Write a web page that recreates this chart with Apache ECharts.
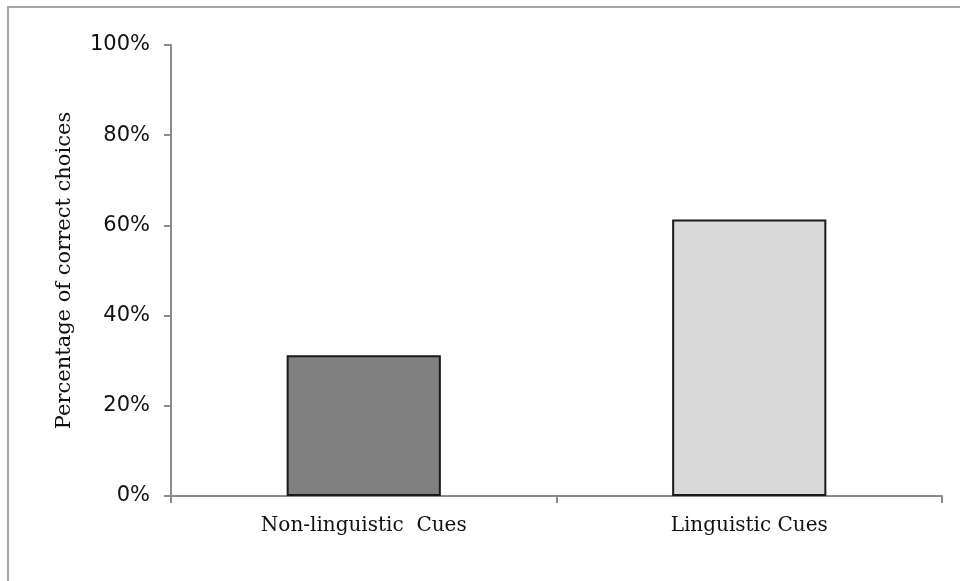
<!DOCTYPE html>
<html>
<head>
<meta charset="utf-8">
<script src="https://cdn.jsdelivr.net/npm/echarts@6/dist/echarts.min.js"></script>
<style>html,body{margin:0;padding:0;background:#fff;}#c{width:960px;height:581px;}</style>
</head>
<body>
<div id="c"></div>
<script>
const categories = ['Non-linguistic  Cues', 'Linguistic Cues'];
const values = [31.2, 61.3];
const barColors = ['#808080', '#d9d9d9'];
const yTitle = 'Percentage of correct choices';

const chart = echarts.init(document.getElementById('c'));
chart.setOption({
  animation: false,
  backgroundColor: '#ffffff',
  graphic: [
    { type: 'line', shape: { x1: 8, y1: 7, x2: 8, y2: 581 }, style: { stroke: '#a6a6a6', lineWidth: 2 } },
    { type: 'line', shape: { x1: 7, y1: 7, x2: 960, y2: 7 }, style: { stroke: '#a6a6a6', lineWidth: 2 } }
  ],
  grid: { left: 171, right: 18, top: 45, bottom: 85 },
  xAxis: {
    type: 'category',
    data: categories,
    axisLine: { lineStyle: { color: '#8c8c8c', width: 2 } },
    axisTick: { show: true, length: 7, lineStyle: { color: '#8c8c8c', width: 2 } },
    axisLabel: { color: '#111', fontFamily: 'DejaVu Serif', fontSize: 20, margin: 20 }
  },
  yAxis: {
    type: 'value',
    min: 0, max: 100, interval: 20,
    name: yTitle,
    nameLocation: 'middle',
    nameGap: 96,
    nameTextStyle: { color: '#111', fontFamily: 'DejaVu Serif', fontSize: 21 },
    axisLine: { show: true, lineStyle: { color: '#8c8c8c', width: 2 } },
    axisTick: { show: true, length: 7, lineStyle: { color: '#8c8c8c', width: 2 } },
    splitLine: { show: false },
    axisLabel: { color: '#111', fontFamily: 'DejaVu Sans', fontSize: 21, margin: 21, formatter: '{value}%' }
  },
  series: [{
    type: 'bar',
    barWidth: '40%',
    data: values.map((v, i) => ({ value: v, itemStyle: { color: barColors[i] } })),
    itemStyle: { borderColor: '#1a1a1a', borderWidth: 2 }
  }]
});
</script>
</body>
</html>
